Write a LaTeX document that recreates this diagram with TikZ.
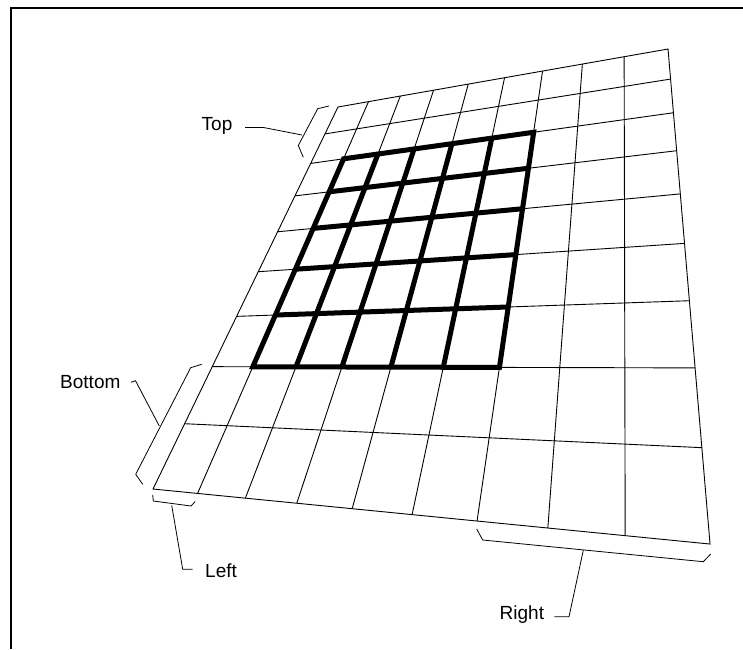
\documentclass[tikz,border=0pt]{standalone}
\usepackage{fontspec}
\setmainfont{Liberation Sans}
\begin{document}
\begin{tikzpicture}[x=1pt,y=-1pt,
  thingrid/.style={line width=0.9pt},
  thickgrid/.style={line width=5pt, line join=miter},
  framestyle/.style={line width=2pt},
  leader/.style={line width=0.8pt, line join=round},
  lbl/.style={anchor=base west, inner sep=0pt, font=\fontsize{19}{22}\selectfont}]
\useasboundingbox (0,0) rectangle (743,649);
% frame
\coordinate (fa) at (743,8.3);
\coordinate (fb) at (11,8.3);
\coordinate (fc) at (11,649);
\draw[framestyle] (fa) -- (fb) -- (fc);
% perspective grid points (homography of the unit square)
\foreach \i in {0,...,9}{
  \foreach \j in {0,...,9}{
    \pgfmathsetmacro\uu{\i/9}
    \pgfmathsetmacro\vv{\j/9}
    \pgfmathsetmacro\dd{1-0.18455*\uu-0.39363*\vv}
    \pgfmathsetmacro\hx{(206.72*\uu-245.23*\vv+338)/\dd}
    \pgfmathsetmacro\hy{(-67.04*\uu+189.51*\vv+107)/\dd}
    \coordinate (p-\i-\j) at (\hx,\hy);
  }
}
% thin grid
\foreach \i in {1,...,8} \draw[thingrid] (p-\i-0) -- (p-\i-9);
\foreach \j in {1,...,8} \draw[thingrid] (p-0-\j) -- (p-9-\j);
\draw[thingrid] (p-0-0) -- (p-9-0) -- (p-9-9) -- (p-0-9) -- cycle;
% thick sub-grid
\foreach \i in {2,...,5} \draw[thickgrid] (p-\i-2) -- (p-\i-7);
\foreach \j in {3,...,6} \draw[thickgrid] (p-1-\j) -- (p-6-\j);
\draw[thickgrid] (p-1-2) -- (p-6-2) -- (p-6-7) -- (p-1-7) -- cycle;
% labels
\node[lbl] (top) at (201.5,130) {Top};
\node[lbl] (bottom) at (60,388) {Bottom};
\node[lbl] (left) at (205,577) {Left};
\node[lbl] (right) at (499.5,619) {Right};
% Top bracket and leader
\coordinate (tb1) at (329,106);
\coordinate (tb2) at (317.7,108.7);
\coordinate (tb3) at (298.3,145.5);
\coordinate (tb4) at (303.3,157.3);
\coordinate (tl1) at (245,127.5);
\coordinate (tl2) at (263.5,127.5);
\coordinate (tl3) at (302,135);
\draw[leader] (tb1) -- (tb2) -- (tb3) -- (tb4);
\draw[leader] (tl1) -- (tl2) -- (tl3);
% Bottom bracket and leader
\coordinate (bb1) at (201.7,364.3);
\coordinate (bb2) at (190.7,367.7);
\coordinate (bb3) at (135.7,474.3);
\coordinate (bb4) at (142.7,484.3);
\coordinate (bl1) at (131,382.3);
\coordinate (bl2) at (135.5,380.7);
\coordinate (bl3) at (159.3,426);
\draw[leader] (bb1) -- (bb2) -- (bb3) -- (bb4);
\draw[leader] (bl1) -- (bl2) -- (bl3);
% Left bracket and leader
\coordinate (lb1) at (152.7,495);
\coordinate (lb2) at (153.3,501);
\coordinate (lb3) at (191,506);
\coordinate (lb4) at (195,501.7);
\coordinate (ll1) at (171.7,505.3);
\coordinate (ll2) at (182.7,569.3);
\coordinate (ll3) at (192.7,569.3);
\draw[leader] (lb1) -- (lb2) -- (lb3) -- (lb4);
\draw[leader] (ll1) -- (ll2) -- (ll3);
% Right bracket and leader
\coordinate (rb1) at (476.7,529);
\coordinate (rb2) at (482.7,540);
\coordinate (rb3) at (703.3,561.7);
\coordinate (rb4) at (710.7,554);
\coordinate (rl1) at (583.3,550.2);
\coordinate (rl2) at (569,616.7);
\coordinate (rl3) at (554.3,616.7);
\draw[leader] (rb1) -- (rb2) -- (rb3) -- (rb4);
\draw[leader] (rl1) -- (rl2) -- (rl3);
\end{tikzpicture}
\end{document}
